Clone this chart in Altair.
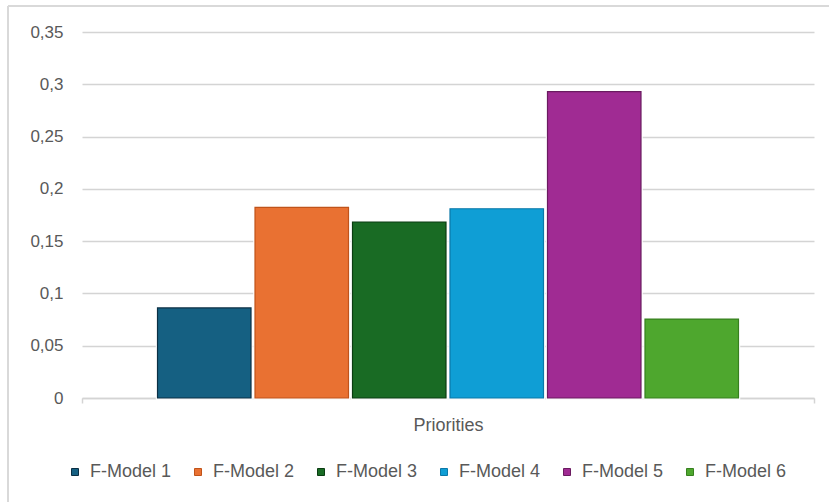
import altair as alt
import pandas as pd

models = ["F-Model 1", "F-Model 2", "F-Model 3", "F-Model 4", "F-Model 5", "F-Model 6"]
values = [0.0861, 0.1823, 0.1683, 0.1810, 0.2929, 0.0755]
group = "Priorities"
fill_colors = ["#156082", "#E97132", "#196B24", "#0F9ED5", "#A02B93", "#4EA72E"]
stroke_colors = ["#0b2f44", "#c0531a", "#0b3d12", "#0b78a8", "#6a1b60", "#37801f"]
y_ticks = [0, 0.05, 0.1, 0.15, 0.2, 0.25, 0.3, 0.35]

df = pd.DataFrame({"grp": [group] * len(models), "model": models, "value": values})

FONT = "Liberation Sans"
TXT = "#595959"
GRID = "#d4d4d4"

legend_props = dict(orient="none", direction="horizontal",
                    legendX=-16, legendY=431,
                    symbolType="square", symbolSize=49,
                    symbolStrokeWidth=1, labelFontSize=18,
                    labelColor=TXT, labelFont=FONT,
                    labelOffset=6, columnPadding=17)

x_enc = alt.X("grp:N", title=None,
              scale=alt.Scale(paddingInner=0, paddingOuter=0),
              axis=alt.Axis(tickBand="extent", labelAngle=0, domainColor=GRID,
                            domainWidth=1.5, tickColor=GRID, tickWidth=1.5,
                            tickSize=5, labelPadding=13, labelFontSize=18,
                            labelColor=TXT, labelFont=FONT, grid=False))
xoff_enc = alt.XOffset("model:N", sort=models,
                       scale=alt.Scale(paddingInner=0.041, paddingOuter=0.7745))
y_enc = alt.Y("value:Q", title=None,
              scale=alt.Scale(domain=[0, 0.35], nice=False),
              axis=alt.Axis(values=y_ticks, domain=False, ticks=False,
                            labelExpr="replace(format(datum.value, '~g'), '.', ',')",
                            labelPadding=19, labelFontSize=17, labelColor=TXT,
                            labelFont=FONT, gridColor=GRID, gridWidth=1.5))

halo = alt.Chart(df).mark_bar(strokeWidth=3.5, fill="white", stroke="white").encode(
    x=x_enc, xOffset=xoff_enc, y=y_enc)

bars = alt.Chart(df).mark_bar(strokeWidth=1.2).encode(
    x=x_enc, xOffset=xoff_enc, y=y_enc,
    color=alt.Color("model:N", sort=models, title=None,
                    scale=alt.Scale(domain=models, range=fill_colors),
                    legend=alt.Legend(**legend_props)),
    stroke=alt.Stroke("model:N", sort=models, title=None,
                      scale=alt.Scale(domain=models, range=stroke_colors),
                      legend=alt.Legend(**legend_props)),
)

frame = pd.DataFrame({"k": [0]})
left_border = alt.Chart(frame).mark_rule(color="#d9d9d9", strokeWidth=2).encode(
    x=alt.value(-74), y=alt.value(-26), y2=alt.value(480))
top_border = alt.Chart(frame).mark_rule(color="#d9d9d9", strokeWidth=2).encode(
    x=alt.value(-74), x2=alt.value(760), y=alt.value(-26))

chart = alt.layer(halo, bars, left_border, top_border).properties(
    width=732, height=366,
    background="white",
    autosize=alt.AutoSizeParams(type="none"),
    padding={"left": 82, "top": 32, "right": 15, "bottom": 104},
).configure_view(stroke=None)

chart.save("out.html", embed_options={"renderer": "svg", "actions": False})
